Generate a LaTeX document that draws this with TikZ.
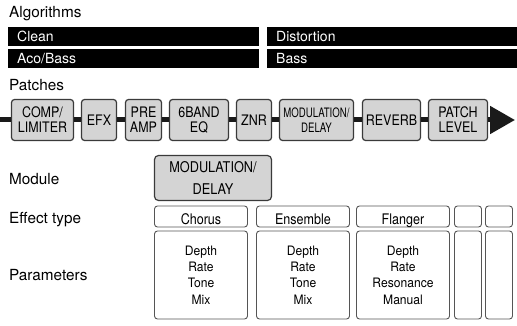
\documentclass[tikz,border=0pt]{standalone}
\usepackage{fontspec}
\setmainfont{TeX Gyre Heros}
\newfontfamily\narrowfont{TeX Gyre Heros}[FakeStretch=0.86]
\newfontfamily\tightfont{TeX Gyre Heros}[FakeStretch=0.74]
\newfontfamily\paramfont{TeX Gyre Heros}[FakeStretch=0.93]
\usetikzlibrary{arrows.meta}
\definecolor{boxgray}{HTML}{D4D4D4}
\definecolor{edgegray}{HTML}{3A3A3A}
\definecolor{thingray}{HTML}{555555}
\definecolor{flowblack}{HTML}{1A1A1A}

\begin{document}
\begin{tikzpicture}[x=1pt, y=-1pt, line join=round,
    heading/.style={anchor=base west, inner sep=0pt, font=\fontsize{15.3}{18}\selectfont},
    algbar/.style={fill=black, text=white, anchor=north west, minimum height=19pt, inner xsep=9pt, inner ysep=0pt, align=left, text height=10pt, text depth=0pt, font=\fontsize{14}{16}\selectfont},
    patchbox/.style={draw=edgegray, fill=boxgray, line width=1.2pt, rounded corners=3pt, minimum height=41pt, inner sep=0pt, align=center, font=\narrowfont\fontsize{14.5}{15}\selectfont},
    modbox/.style={draw=edgegray, fill=boxgray, line width=1.2pt, rounded corners=4pt, align=center, inner sep=0pt, font=\narrowfont\fontsize{14.8}{22}\selectfont},
    typebox/.style={draw=thingray, line width=0.9pt, rounded corners=3pt, minimum height=21pt, inner xsep=0pt, inner ysep=0pt, text height=15pt, text depth=0pt, font=\narrowfont\fontsize{14.6}{16}\selectfont},
    parbox/.style={draw=thingray, line width=0.9pt, rounded corners=3pt, minimum height=88pt, inner sep=0pt, align=center, font=\paramfont\fontsize{13}{16.3}\selectfont},
    flow/.style={draw=flowblack, line width=5pt}]
    \useasboundingbox (0,0) rectangle (517,326);
    % rows of labels
    \node[heading] (algos) at (9,17.3) {Algorithms};
    \node[heading] (patches) at (9,90.7) {Patches};
    \node[heading] (modlbl) at (9,184.3) {Module};
    \node[heading] (typelbl) at (9,223.3) {Effect type};
    \node[heading] (parlbl) at (9,280.7) {Parameters};
    \node[algbar, text width=233pt] (clean) at (8,27) {Clean};
    \node[algbar, text width=232pt] (dist) at (267,27) {Distortion};
    \node[algbar, text width=233pt] (aco) at (8,49) {Aco/Bass};
    \node[algbar, text width=232pt] (bass) at (267,49) {Bass};
    % signal chain
    \node[patchbox, minimum width=62pt] (comp) at (42.5,120) {COMP/\\LIMITER};
    \node[patchbox, minimum width=35pt] (efx) at (99,120) {EFX};
    \node[patchbox, minimum width=36pt] (preamp) at (143.5,120) {PRE\\AMP};
    \node[patchbox, minimum width=59pt] (eq) at (199,120) {6BAND\\EQ};
    \node[patchbox, minimum width=35pt] (znr) at (254,120) {ZNR};
    \node[patchbox, minimum width=74pt, font=\tightfont\fontsize{13}{15}\selectfont] (moddly) at (316.5,120) {MODULATION/\\DELAY};
    \node[patchbox, minimum width=58pt] (reverb) at (391.5,120) {REVERB};
    \node[patchbox, minimum width=59pt] (level) at (458,120) {PATCH\\LEVEL};
    \coordinate (in) at (0,120);
    \coordinate (out) at (515,120);
    \draw[flow] (in) -- (comp) -- (efx) -- (preamp) -- (eq) -- (znr) -- (moddly) -- (reverb) -- (level);
    \draw[flow, -{Triangle[length=25pt, width=27pt]}] (level) -- (out);
    % module and its effect types
    \node[modbox, minimum width=117pt, minimum height=45pt] (module) at (213,178) {MODULATION/\\DELAY};
    \node[typebox, minimum width=93pt] (chorus) at (201,216.5) {Chorus};
    \node[typebox, minimum width=93pt] (ensemble) at (303,216.5) {Ensemble};
    \node[typebox, minimum width=93pt] (flanger) at (403,216.5) {Flanger};
    \node[typebox, minimum width=27pt] (typeA) at (468,216.5) {};
    \node[typebox, minimum width=27pt] (typeB) at (499,216.5) {};
    \node[parbox, minimum width=93pt] (parChorus) at (201,275) {Depth\\Rate\\Tone\\Mix};
    \node[parbox, minimum width=93pt] (parEnsemble) at (303,275) {Depth\\Rate\\Tone\\Mix};
    \node[parbox, minimum width=93pt] (parFlanger) at (403,275) {Depth\\Rate\\Resonance\\Manual};
    \node[parbox, minimum width=27pt] (parA) at (468,275) {};
    \node[parbox, minimum width=27pt] (parB) at (499,275) {};
\end{tikzpicture}
\end{document}
